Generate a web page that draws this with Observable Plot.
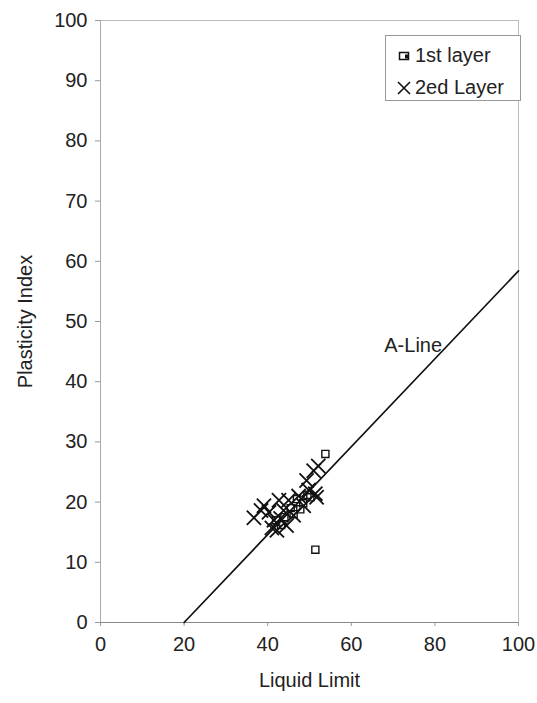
<!DOCTYPE html>
<html>
<head>
<meta charset="utf-8">
<script src="https://cdn.jsdelivr.net/npm/d3@7"></script>
<script src="https://cdn.jsdelivr.net/npm/@observablehq/plot@0.6"></script>
<style>
  html, body { margin: 0; padding: 0; background: white; }
  #wrap { position: relative; width: 537px; height: 703px; font-family: "Liberation Sans", Arial, sans-serif; }
  #legend { position: absolute; left: 385px; top: 35px; width: 136px; height: 66px; border: 1px solid #999; background: white; box-sizing: border-box; }
  .row { position: absolute; left: 10px; display: flex; align-items: center; font-size: 20px; color: #222; white-space: nowrap; }
  .row svg { margin-right: 3px; }
</style>
</head>
<body>
<div id="wrap">
  <div id="chart"></div>
  <div id="legend">
    <div class="row" style="top:8px"><svg width="16" height="16" viewBox="-8 -8 16 16"><rect x="-4.5" y="-3.5" width="9" height="7" fill="none" stroke="#111" stroke-width="1.5"/><rect x="1" y="-1.5" width="3.5" height="4" fill="#111"/></svg><span>1st layer</span></div>
    <div class="row" style="top:40px"><svg width="16" height="16" viewBox="-8 -8 16 16"><path d="M-6,-6L6,6M-6,6L6,-6" stroke="#111" stroke-width="1.6"/></svg><span>2ed Layer</span></div>
  </div>
</div>
<script>
// Tick labels
const xTicks = [0, 20, 40, 60, 80, 100];
const yTicks = [0, 10, 20, 30, 40, 50, 60, 70, 80, 90, 100];

// A-Line endpoints (PI = 0.73 (LL - 20))
const aLineLL = [20, 100];
const aLinePI = [0, 58.4];

// 1st layer (Liquid Limit, Plasticity Index)
const layer1LL = [53.8, 51.4, 45.5, 47.0, 48.5, 44.0, 46.2, 49.5, 43.2, 50.2, 42.0, 47.8];
const layer1PI = [28.0, 12.1, 19.0, 20.5, 19.8, 17.5, 18.0, 21.2, 16.2, 20.8, 17.0, 18.8];

// 2nd layer
const layer2LL = [36.7, 38.4, 39.1, 41.5, 40.3, 43.8, 42.7, 45.0, 42.2, 44.5, 46.2, 47.4, 48.6, 49.8, 51.7, 51.0, 52.1, 49.3, 43.1, 41.0, 51.4];
const layer2PI = [17.4, 18.6, 19.4, 17.0, 18.3, 18.6, 20.3, 20.3, 15.3, 16.1, 17.8, 21.0, 19.4, 22.0, 20.8, 25.2, 26.0, 23.6, 17.3, 15.7, 21.4];

const aLine = aLineLL.map((ll, i) => ({ll, pi: aLinePI[i]}));
const layer1 = layer1LL.map((ll, i) => ({ll, pi: layer1PI[i]}));
const layer2 = layer2LL.map((ll, i) => ({ll, pi: layer2PI[i]}));

const chart = Plot.plot({
  width: 537,
  height: 703,
  marginLeft: 100,
  marginRight: 19,
  marginTop: 20,
  marginBottom: 81,
  style: {fontFamily: "'Liberation Sans', Arial, sans-serif", fontSize: "20px", color: "#222", background: "white"},
  x: {domain: [0, 100]},
  y: {domain: [0, 100]},
  marks: [
    Plot.frame({stroke: "#bbb"}),
    Plot.axisX({ticks: xTicks, tickSize: 4, tickPadding: 10, stroke: "#999", label: "Liquid Limit", labelAnchor: "center", labelArrow: "none", labelOffset: 64}),
    Plot.axisY({ticks: yTicks, tickSize: 5, tickPadding: 8, stroke: "#999", label: "Plasticity Index", labelAnchor: "center", labelArrow: "none", labelOffset: 83}),
    Plot.ruleY([0], {stroke: "#888"}),
    Plot.ruleX([0], {stroke: "#aaa"}),
    Plot.line(aLine, {x: "ll", y: "pi", stroke: "#111", strokeWidth: 1.7}),
    Plot.text(["A-Line"], {x: 74.8, y: 46, text: d => d, fill: "#222", fontSize: 20, textAnchor: "middle"}),
    Plot.dot(layer2, {x: "ll", y: "pi", symbol: "times", r: 6.5, stroke: "#111", strokeWidth: 1.8}),
    Plot.dot(layer1, {x: "ll", y: "pi", symbol: "square", r: 4, stroke: "#111", fill: "none", strokeWidth: 1.4})
  ]
});
document.getElementById("chart").appendChild(chart);
</script>
</body>
</html>
